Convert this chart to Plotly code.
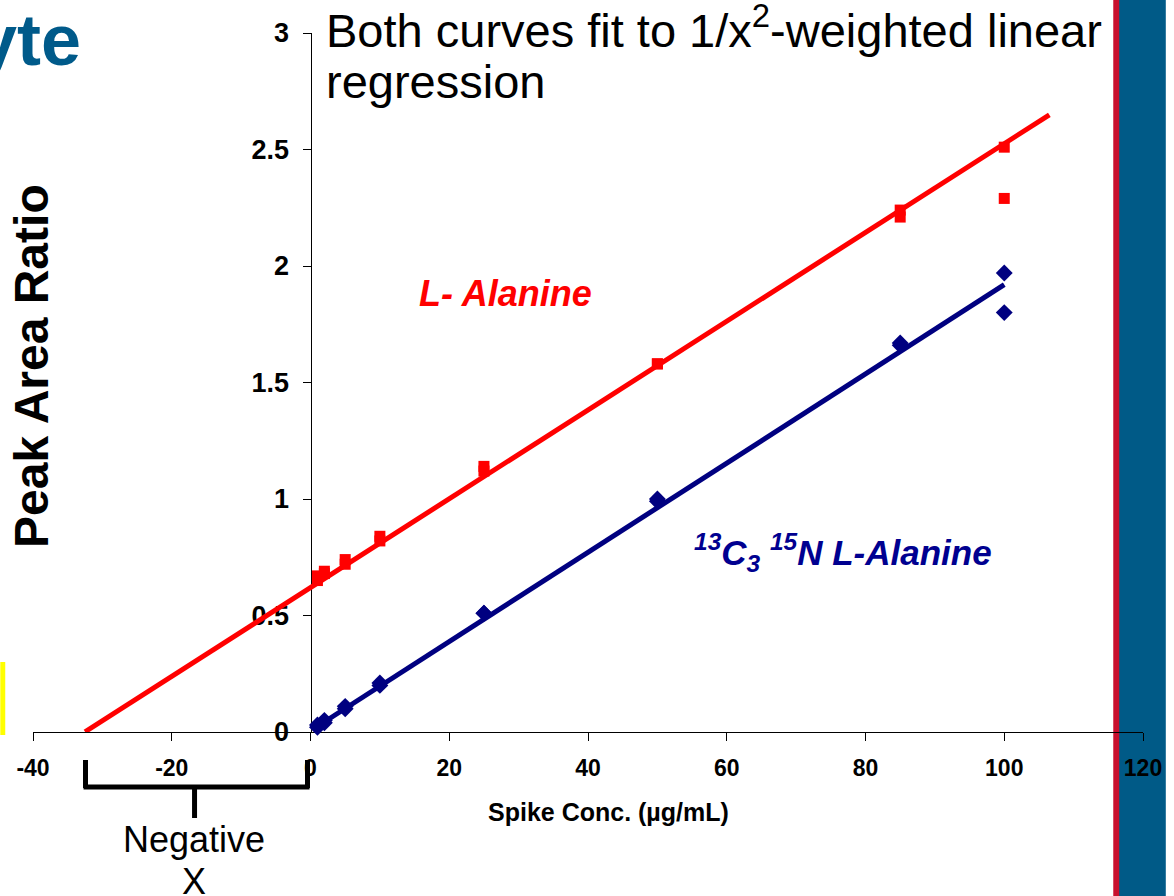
import plotly.graph_objects as go

# ---- data ----
conc = [1, 1, 2, 2, 5, 5, 10, 10, 25, 25, 50, 50, 85, 85, 100, 100]
l_alanine = [0.65, 0.67, 0.68, 0.69, 0.72, 0.74, 0.82, 0.84, 1.12, 1.14,
             1.58, 1.58, 2.21, 2.24, 2.51, 2.29]
labeled_alanine = [0.02, 0.03, 0.04, 0.05, 0.10, 0.11, 0.20, 0.21, 0.51, 0.51,
                   0.99, 1.00, 1.66, 1.67, 1.97, 1.80]

red_fit_slope = 0.01905
red_fit_intercept = 0.62
red_fit_x = [-32.5, 106.5]

blue_fit_slope = 0.01915
blue_fit_intercept = 0.005
blue_fit_x = [0.8, 100]

x_ticks = [-40, -20, 0, 20, 40, 60, 80, 100, 120]
y_ticks = [0, 0.5, 1, 1.5, 2, 2.5, 3]
y_tick_labels = ["0", "0.5", "1", "1.5", "2", "2.5", "3"]

FONT = "Liberation Sans, Arial, sans-serif"
RED = "#FF0000"
NAVY = "#000080"

# pixel -> paper helpers (plot area: x 33..1153, y 33..732)
def px(x):
    return (x - 33) / 1120.0

def py(y):
    return (732 - y) / 699.0

red_fit_y = [red_fit_intercept + red_fit_slope * x for x in red_fit_x]
blue_fit_y = [blue_fit_intercept + blue_fit_slope * x for x in blue_fit_x]

fig = go.Figure()
fig.add_trace(go.Scatter(x=red_fit_x, y=red_fit_y, mode="lines",
                         line=dict(color=RED, width=5), showlegend=False, cliponaxis=False))
fig.add_trace(go.Scatter(x=blue_fit_x, y=blue_fit_y, mode="lines",
                         line=dict(color=NAVY, width=5), showlegend=False, cliponaxis=False))
fig.add_trace(go.Scatter(x=conc, y=l_alanine, mode="markers",
                         marker=dict(symbol="square", size=11, color=RED),
                         showlegend=False, cliponaxis=False))
fig.add_trace(go.Scatter(x=conc, y=labeled_alanine, mode="markers",
                         marker=dict(symbol="diamond", size=13, color=NAVY),
                         showlegend=False, cliponaxis=False))

fig.update_layout(
    width=1174, height=896, autosize=False,
    margin=dict(l=33, r=21, t=33, b=164, pad=0),
    paper_bgcolor="white", plot_bgcolor="rgba(0,0,0,0)",
    font=dict(family=FONT, color="black"),
    showlegend=False,
    xaxis=dict(range=[-40, 120], tickvals=x_ticks, ticktext=[str(v) for v in x_ticks],
               showgrid=False, zeroline=False, showline=True, linecolor="black", linewidth=1,
               ticks="outside", ticklen=8, tickcolor="black", tickwidth=1,
               tickfont=dict(family=FONT, size=23, color="black", weight="bold"),
               ticklabelstandoff=7, layer="below traces", fixedrange=True),
    yaxis=dict(range=[0, 3], tickvals=y_ticks, ticktext=y_tick_labels,
               anchor="free", position=0.25,
               showgrid=False, zeroline=False, showline=True, linecolor="black", linewidth=1,
               ticks="outside", ticklen=8, tickcolor="black", tickwidth=1,
               tickfont=dict(family=FONT, size=27, color="black", weight="bold"),
               ticklabelstandoff=8, layer="below traces", fixedrange=True),
)

ann = []
# top text
ann.append(dict(x=px(327), y=py(27), xref="paper", yref="paper", xanchor="left", yanchor="middle",
                text="Both curves fit to 1/x<sup>2</sup>-weighted linear", showarrow=False,
                font=dict(family=FONT, size=47, color="black")))
ann.append(dict(x=px(327), y=py(81), xref="paper", yref="paper", xanchor="left", yanchor="middle",
                text="regression", showarrow=False,
                font=dict(family=FONT, size=47, color="black")))
# series labels
ann.append(dict(x=px(510), y=py(293), xref="paper", yref="paper", xanchor="center", yanchor="middle",
                text="<b><i>L- Alanine</i></b>", showarrow=False,
                font=dict(family=FONT, size=36, color=RED)))
ann.append(dict(x=px(850), y=py(552), xref="paper", yref="paper", xanchor="center", yanchor="middle",
                text="<b><i><sup>13</sup>C<sub>3</sub> <sup>15</sup>N L-Alanine</i></b>", showarrow=False,
                font=dict(family=FONT, size=35, color="#000090")))
# axis titles
ann.append(dict(x=px(31), y=py(366), xref="paper", yref="paper", xanchor="center", yanchor="middle",
                text="<b>Peak Area Ratio</b>", textangle=-90, showarrow=False,
                font=dict(family=FONT, size=48, color="black")))
ann.append(dict(x=px(614), y=py(812), xref="paper", yref="paper", xanchor="center", yanchor="middle",
                text="<b>Spike Conc. (µg/mL)</b>", showarrow=False,
                font=dict(family=FONT, size=25, color="black")))
# slide title fragment
ann.append(dict(x=px(83), y=py(40), xref="paper", yref="paper", xanchor="right", yanchor="middle",
                text="<b>yte</b>", showarrow=False,
                font=dict(family=FONT, size=72, color="#005A8A")))
# negative x text
ann.append(dict(x=px(195), y=py(839), xref="paper", yref="paper", xanchor="center", yanchor="middle",
                text="Negative", showarrow=False,
                font=dict(family=FONT, size=36, color="black")))
ann.append(dict(x=px(195), y=py(881), xref="paper", yref="paper", xanchor="center", yanchor="middle",
                text="X", showarrow=False,
                font=dict(family=FONT, size=36, color="black")))
fig.update_layout(annotations=ann)

shapes = []
# bracket
for (x0, y0, x1, y1) in [(86, 760, 86, 788), (310, 760, 310, 788), (84, 787, 312, 787), (196, 787, 196, 818)]:
    shapes.append(dict(type="line", xref="paper", yref="paper",
                       x0=px(x0), y0=py(y0), x1=px(x1), y1=py(y1),
                       line=dict(color="black", width=5), layer="above"))
# yellow box at left edge
shapes.append(dict(type="rect", xref="paper", yref="paper",
                   x0=px(0), x1=px(5), y0=py(662), y1=py(735),
                   fillcolor="#FFFF00", line=dict(width=0), layer="above"))
# right side bars (below the axis so the "120" label shows on top, as in the slide)
shapes.append(dict(type="rect", xref="paper", yref="paper",
                   x0=px(1123), x1=px(1130), y0=py(-2), y1=py(898),
                   fillcolor="#C8102E", line=dict(width=0), layer="below"))
shapes.append(dict(type="rect", xref="paper", yref="paper",
                   x0=px(1129), x1=px(1176), y0=py(-2), y1=py(898),
                   fillcolor="#005A87", line=dict(width=0), layer="below"))
fig.update_layout(shapes=shapes)

fig.write_html("out.html", config={"displayModeBar": False},
               post_script="document.body.style.margin='0';document.body.style.overflow='hidden';")
